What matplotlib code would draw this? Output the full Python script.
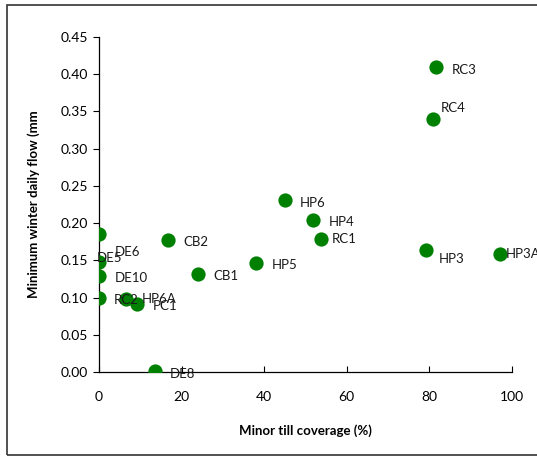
import matplotlib.pyplot as plt
from matplotlib.patches import Rectangle

# site labels, minor till coverage (%) and minimum winter daily flow (mm)
sites = ['RC3', 'RC4', 'HP6', 'HP4', 'RC1', 'HP3', 'HP3A', 'HP5', 'CB2', 'CB1',
         'DE6', 'DE5', 'DE10', 'RC2', 'HP6A', 'PC1', 'DE8']
coverage = [81.6, 80.9, 45.0, 51.8, 53.8, 79.2, 97.1, 38.0, 16.7, 24.0,
            0.0, 0.0, 0.0, 0.0, 6.5, 9.2, 13.6]
min_flow = [0.410, 0.340, 0.231, 0.204, 0.179, 0.164, 0.159, 0.1465, 0.177, 0.132,
            0.185, 0.148, 0.129, 0.0995, 0.098, 0.091, 0.001]

# label offsets in pixels (dx, dy), Excel-style placement
offsets = {'RC3': (16, -3), 'RC4': (8, 11), 'HP6': (15, -3), 'HP4': (16, -2),
           'RC1': (11, 0), 'HP3': (13, -9), 'HP3A': (6, 0), 'HP5': (16, -2),
           'CB2': (15, -2), 'CB1': (15, -2), 'DE6': (16, -18), 'DE5': (-2, 4),
           'DE10': (16, -2), 'RC2': (15, -2), 'HP6A': (16, 0), 'PC1': (16, -2),
           'DE8': (15, -3)}

plt.rcParams['font.family'] = ['Lato', 'DejaVu Sans']

fig = plt.figure(figsize=(5.37, 4.57), dpi=100)
ax = fig.add_axes([99 / 537, 1 - 372 / 457, 413 / 537, 335 / 457])

ax.scatter(coverage, min_flow, s=105, color='#008000', zorder=3, linewidths=0)
for name, xv, yv in zip(sites, coverage, min_flow):
    dx, dy = offsets[name]
    ax.annotate(name, (xv, yv), xytext=(dx, dy), textcoords='offset pixels',
                ha='left', va='center', fontsize=9.5, color='#1a1a1a')

ax.set_xlim(0, 100)
ax.set_ylim(0, 0.45)
ax.set_xticks([0, 20, 40, 60, 80, 100])
ax.set_yticks([i * 0.05 for i in range(10)])
ax.set_yticklabels([f'{i * 0.05:.2f}' for i in range(10)])

ax.spines['right'].set_color('none')
ax.spines['top'].set_color('none')
ax.spines['left'].set_linewidth(0.9)
ax.spines['bottom'].set_linewidth(0.9)
ax.tick_params(axis='y', direction='out', length=4, labelsize=10, pad=4)
ax.tick_params(axis='x', direction='in', length=4, labelsize=10, pad=14)

ax.set_xlabel('Minor till coverage (%)', fontsize=9.5, fontweight='bold', labelpad=15)
ax.set_ylabel('Minimum winter daily flow (mm', fontsize=9.5, fontweight='bold', labelpad=15)

fig.patches.append(Rectangle((7 / 537, 2 / 457), 1.2, 450 / 457,
                             transform=fig.transFigure, fill=False,
                             edgecolor='#333333', linewidth=1.2))

fig.savefig('out.png', dpi=100)
